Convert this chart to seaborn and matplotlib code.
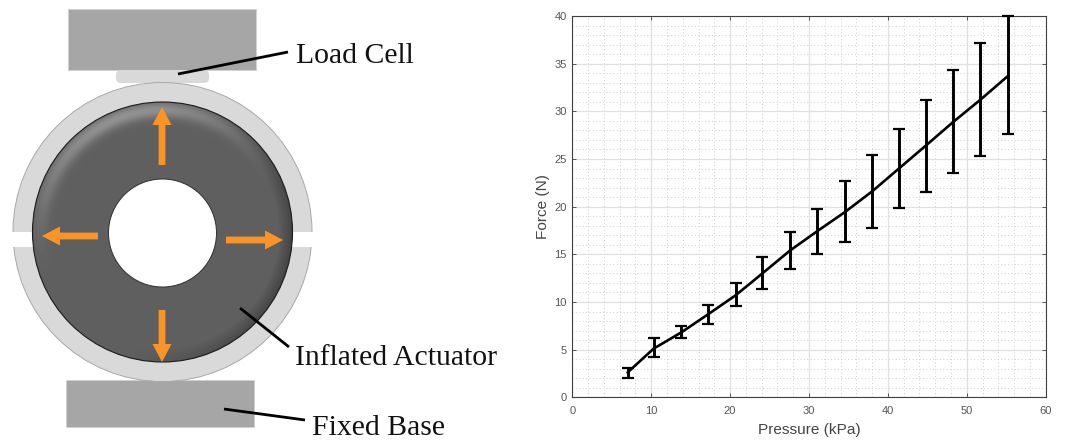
import numpy as np
import pandas as pd
import matplotlib
matplotlib.use("Agg")
import matplotlib.pyplot as plt
from matplotlib.patches import Circle, FancyArrow, FancyBboxPatch, Rectangle
from matplotlib.ticker import MultipleLocator
import seaborn as sns

# Force vs pressure
pressure = [7.0, 10.3, 13.8, 17.2, 20.7, 24.1, 27.6, 31.0, 34.5, 38.0, 41.4, 44.8, 48.3, 51.7, 55.2]
force = [2.6, 5.1, 6.8, 8.7, 10.7, 13.0, 15.4, 17.4, 19.4, 21.6, 24.0, 26.4, 28.9, 31.2, 33.7]
force_hi = [3.1, 6.2, 7.5, 9.7, 12.0, 14.7, 17.3, 19.8, 22.7, 25.4, 28.1, 31.2, 34.3, 37.2, 40.0]
force_lo = [2.0, 4.2, 6.2, 7.7, 9.6, 11.4, 13.5, 15.0, 16.3, 17.8, 19.9, 21.5, 23.5, 25.3, 27.6]

x_ticks = [0, 10, 20, 30, 40, 50, 60]
y_ticks = [0, 5, 10, 15, 20, 25, 30, 35, 40]

W, H = 1065, 440
CX, CY = 162.5, 232.0
ORANGE = "#fb9426"
BLOCK = "#a6a6a6"
RING = "#d9d9d9"

sns.set_theme(style="whitegrid")
plt.rcParams['font.family'] = ['Liberation Sans', 'DejaVu Sans']

fig = plt.figure(figsize=(W / 100, H / 100), dpi=100)

# Left panel: schematic, drawn in pixel coordinates
sk = fig.add_axes([0, 0, 1, 1])
sk.set_xlim(0, W)
sk.set_ylim(H, 0)
sk.axis("off")

sk.add_patch(Rectangle((68, 9.5), 188, 60.5, fc=BLOCK, ec="#d0d0d0", lw=0.6, zorder=2))
sk.add_patch(Rectangle((66, 380), 188, 47, fc=BLOCK, ec="#d0d0d0", lw=0.6, zorder=2))
sk.add_patch(FancyBboxPatch((116, 70), 93, 13, boxstyle="round,pad=0,rounding_size=5", fc=RING, ec="none", zorder=2))

sk.add_patch(Circle((CX, CY), 149.5, fc=RING, ec="#a8a8a8", lw=0.7, zorder=3))
sk.add_patch(Rectangle((5, 232.5), 315, 14.5, fc="white", ec="none", zorder=4))

# Actuator shading: bright rim that fades away from the top left
yy, xx = np.mgrid[98:367, 28:298]
dx, dy = xx + 0.5 - CX, yy + 0.5 - CY
rad = np.hypot(dx, dy)
ang = np.arctan2(-dy, dx)
light = np.clip(np.cos(ang - np.radians(110)), 0, 1) ** 1.5
band = np.exp(-((rad - 122) / 8.0) ** 2)
edge = np.clip((rad - 116) / 14, 0, 1) * np.clip(np.cos(ang + np.radians(15)), 0, 1)
shade = 95 + 50 * light * band - 28 * edge
img = sk.imshow(shade, extent=(28, 298, 367, 98), cmap="gray", vmin=0, vmax=255,
                interpolation="bilinear", aspect="auto", zorder=5)
sk.set_xlim(0, W)
sk.set_ylim(H, 0)
disc = Circle((CX, CY), 130, transform=sk.transData)
img.set_clip_path(disc)
sk.add_patch(Circle((CX, CY), 130, fc="none", ec="#1a1a1a", lw=0.8, zorder=6))
sk.add_patch(Circle((CX, 233), 54, fc="white", ec="#303030", lw=0.7, zorder=6))

# Orange arrows (x, y, dx, dy)
arrows = [(162, 165, 0, -58), (162, 310, 0, 52), (98, 236, -56, 0), (226, 240, 57, 0)]
for ax0, ay0, adx, ady in arrows:
    sk.add_patch(FancyArrow(ax0, ay0, adx, ady, width=6.8, head_width=19, head_length=18,
                            length_includes_head=True, fc=ORANGE, ec="none", zorder=7))

leaders = [((178, 74), (288, 52)), ((240, 308), (289, 347)), ((224, 409), (305, 420))]
for (x0, y0), (x1, y1) in leaders:
    sk.plot([x0, x1], [y0, y1], color="black", lw=2.0, solid_capstyle="butt", zorder=8)

serif = dict(family="Liberation Serif", color="#111111", fontsize=21.4, va="baseline", ha="left", zorder=9)
sk.text(296, 63, "Load Cell", **serif)
sk.text(295, 365, "Inflated Actuator", **serif)
sk.text(312, 435, "Fixed Base", **serif)

# Right panel: the measured curve
ax = fig.add_axes([572.3 / W, 1 - 397.3 / H, (1045.7 - 572.3) / W, (397.3 - 16) / H])
df = pd.DataFrame({"Pressure (kPa)": pressure, "Force (N)": force})
sns.lineplot(data=df, x="Pressure (kPa)", y="Force (N)", color="black", linewidth=1.9,
             errorbar=None, ax=ax, zorder=4)

hi = np.array(force_hi)
lo = np.array(force_lo)
mid = np.array(force)
ax.errorbar(pressure, mid, yerr=[mid - lo, hi - mid], fmt="none", ecolor="black",
            elinewidth=2.1, capsize=4.4, capthick=1.6, zorder=4, clip_on=False)

ax.set_xlim(0, 60)
ax.set_ylim(0, 40)
ax.set_xticks(x_ticks)
ax.set_yticks(y_ticks)
ax.xaxis.set_minor_locator(MultipleLocator(2))
ax.yaxis.set_minor_locator(MultipleLocator(1))
ax.grid(which="major", color="#e0e0e0", linewidth=0.9, linestyle="-")
ax.grid(which="minor", color="#cfcfcf", linewidth=0.7, linestyle=(0, (1, 2.5)))
ax.set_axisbelow(True)
ax.tick_params(which="major", direction="in", length=3, width=0.6, color="#404040",
               top=True, right=True, bottom=True, left=True,
               labelsize=8, labelcolor="#555555")
ax.tick_params(axis="x", which="major", pad=6)
ax.tick_params(axis="y", which="major", pad=4)
ax.tick_params(which="minor", length=0)
for spine in ax.spines.values():
    spine.set_color("#404040")
    spine.set_linewidth(0.8)
ax.set_xlabel("Pressure (kPa)", fontsize=11.1, color="#444444", labelpad=5)
ax.set_ylabel("Force (N)", fontsize=11.1, color="#444444", labelpad=3)

plt.savefig("out.png", dpi=100)
